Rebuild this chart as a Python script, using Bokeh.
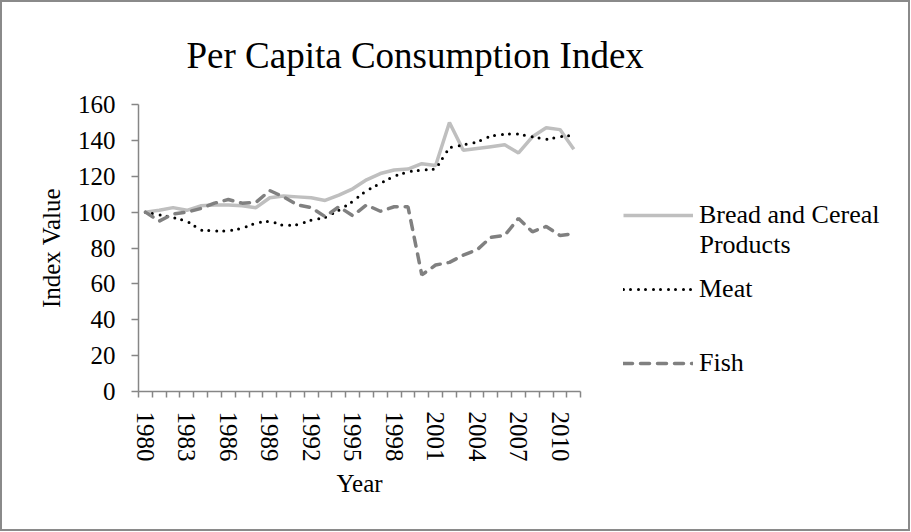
from bokeh.plotting import figure
from bokeh.models import Range1d, FixedTicker, Legend, LegendItem, Label, Title
from bokeh.embed import file_html
from bokeh.resources import INLINE

years = list(range(1980, 2012))
bread = [100, 101, 102.5, 101, 103.5, 104, 104, 103.5, 102.5, 108, 109, 108.5, 108, 106.5,
         109.5, 113, 118, 121.5, 123.5, 124, 127, 126, 150, 134.5, 135.5, 136.5, 137.5, 133,
         142, 147, 146, 135]
meat = [100, 98.5, 97, 95, 90, 89.5, 89.5, 91, 94, 95, 92.5, 93, 95.5, 97, 101, 106, 112,
        116, 120, 122.5, 123.5, 124, 136, 137.5, 139, 142.5, 143.5, 143.5, 142, 140.5, 142, 143]
fish = [100, 95, 99, 100, 102, 105, 107, 105, 105.5, 112, 108.5, 104, 102.5, 97.5, 103, 98,
        104, 100.5, 103, 103, 65, 70.5, 72, 76, 79, 86, 87, 96.5, 89, 92, 87, 88]
year_ticks = list(range(1980, 2012, 3))
y_ticks = list(range(0, 161, 20))

FONT = "Liberation Serif"
AX = "#868686"

# frame extends to the right over the legend area; the x axis is bounded to the data region
p = figure(frame_width=767, frame_height=287, output_backend="svg", toolbar_location=None,
           x_range=Range1d(1979.5, 2035.0), y_range=Range1d(0, 160),
           min_border_left=136, min_border_right=3, min_border_top=102, min_border_bottom=138)
p.styles = {"border": "2px solid #8a8a8a", "box-sizing": "content-box"}
p.outline_line_color = None
p.xgrid.visible = False
p.ygrid.visible = False

r_bread = p.line(years, bread, line_color="#bfbfbf", line_width=3.5)
r_meat = p.line(years, meat, line_color="black", line_width=3, line_dash="0 7 0 8", line_cap="round")
r_fish = p.line(years, fish, line_color="#808080", line_width=3.5, line_dash="9 8", line_cap="round")

xa = p.xaxis[0]
xa.bounds = (1979.5, 2011.5)
xa.ticker = FixedTicker(ticks=year_ticks, minor_ticks=[y - 0.5 for y in range(1980, 2013)])
xa.major_tick_line_color = None
xa.major_tick_out = 0
xa.major_tick_in = 0
xa.minor_tick_out = 6
xa.minor_tick_in = 0
xa.minor_tick_line_color = AX
xa.minor_tick_line_width = 1.5
xa.major_label_orientation = "vertical"
xa.major_label_standoff = 14

ya = p.yaxis[0]
ya.bounds = (0, 160)
ya.ticker = FixedTicker(ticks=y_ticks, minor_ticks=[])
ya.major_tick_out = 7
ya.major_tick_in = 0
ya.major_tick_line_color = AX
ya.major_tick_line_width = 1.5
ya.major_label_standoff = 16
ya.axis_label = "Index Value"
ya.axis_label_standoff = 10

for ax in (xa, ya):
    ax.axis_line_color = AX
    ax.axis_line_width = 1.5
    ax.major_label_text_font = FONT
    ax.major_label_text_font_size = "25px"
    ax.major_label_text_color = "black"
    ax.axis_label_text_font = FONT
    ax.axis_label_text_font_size = "25px"
    ax.axis_label_text_font_style = "normal"
    ax.axis_label_text_color = "black"

p.title.text = "Per Capita Consumption Index"
p.title.text_font = FONT
p.title.text_font_size = "37px"
p.title.text_font_style = "normal"
p.title.text_color = "black"
p.title.align = "left"
p.title.offset = 48
p.title.standoff = 57

year_title = Title(text="Year", text_font=FONT, text_font_size="25px", text_font_style="normal",
                   text_color="black", align="left", offset=198, vertical_align="top", standoff=10)
p.add_layout(year_title, "below")

legend = Legend(items=[LegendItem(label="Bread and Cereal", renderers=[r_bread]),
                       LegendItem(label="Meat", renderers=[r_meat]),
                       LegendItem(label="Fish", renderers=[r_fish])],
                location=(485, 13), orientation="vertical",
                glyph_width=70, glyph_height=20, label_standoff=6, spacing=44,
                padding=0, margin=0, border_line_color=None, background_fill_alpha=0,
                label_text_font=FONT, label_text_font_size="26px", label_text_color="black")
p.add_layout(legend)

products = Label(x=561, y=147, x_units="screen", y_units="screen", text="Products",
                 text_font=FONT, text_font_size="26px", text_align="left",
                 text_baseline="alphabetic", text_color="black")
p.add_layout(products)

open("out.html", "w").write(file_html(p, INLINE))
